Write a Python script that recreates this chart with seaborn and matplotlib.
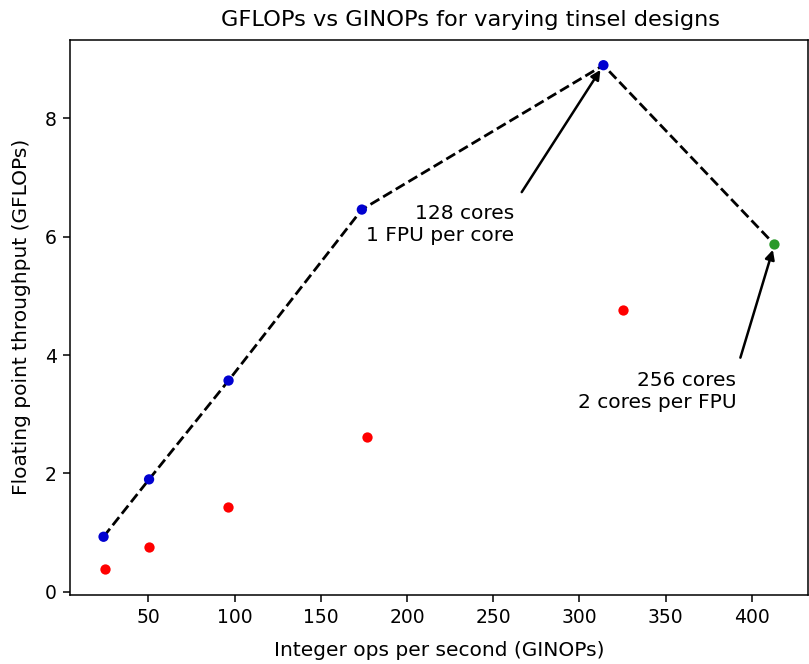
import numpy as np
import pandas as pd

import matplotlib
matplotlib.use('Agg')

from matplotlib import pyplot as plt
import seaborn as sns

# ==============================================================================
# values

# designs with a dedicated FPU (blue) and the shared-FPU design (green)
fpu_ginops = [24.0, 50.4, 96.5, 173.8, 313.9, 413.1]
fpu_gflops = [0.93, 1.90, 3.57, 6.46, 8.90, 5.87]
fpu_kind = ['dedicated', 'dedicated', 'dedicated', 'dedicated', 'dedicated', 'shared']

# software float designs (red)
soft_ginops = [24.6, 50.4, 96.1, 176.8, 325.3]
soft_gflops = [0.38, 0.755, 1.43, 2.61, 4.77]

peak_label = "128 cores\n1 FPU per core"
shared_label = "256 cores\n2 cores per FPU"

# ==============================================================================

fpu_df = pd.DataFrame({'ginops': fpu_ginops, 'gflops': fpu_gflops, 'kind': fpu_kind})
soft_df = pd.DataFrame({'ginops': soft_ginops, 'gflops': soft_gflops})

fig, ax = plt.subplots(figsize=(8.09, 6.64), dpi=100)
fig.subplots_adjust(left=70 / 809, right=808 / 809, top=1 - 40 / 664, bottom=1 - 594.5 / 664)

sns.lineplot(data=fpu_df, x='ginops', y='gflops', color='black', linestyle='--',
             linewidth=2, sort=False, ax=ax, zorder=1)
sns.scatterplot(data=fpu_df, x='ginops', y='gflops', hue='kind',
                palette={'dedicated': '#0000d0', 'shared': '#2a9a2a'},
                s=55, linewidth=0, legend=False, ax=ax, zorder=2)
sns.scatterplot(data=soft_df, x='ginops', y='gflops', color='red',
                s=55, linewidth=0, legend=False, ax=ax, zorder=2)

arrow = dict(arrowstyle='-|>', color='black', lw=1.8, relpos=(1, 1),
             shrinkA=8, shrinkB=4, mutation_scale=14)
ax.annotate(peak_label, xy=(fpu_ginops[4], fpu_gflops[4]), xytext=(262, 6.55),
            ha='right', va='top', fontsize=14.5, arrowprops=arrow)
ax.annotate(shared_label, xy=(fpu_ginops[5], fpu_gflops[5]), xytext=(391, 3.73),
            ha='right', va='top', fontsize=14.5, arrowprops=arrow)

ax.set_title('GFLOPs vs GINOPs for varying tinsel designs', fontsize=16.2, x=0.543, pad=10)
ax.set_xlabel('Integer ops per second (GINOPs)', fontsize=14.5, labelpad=10)
ax.set_ylabel('Floating point throughput (GFLOPs)', fontsize=14.5, labelpad=10)
ax.tick_params(labelsize=13.5, length=5, width=1.1, pad=4.5)
for spine in ax.spines.values():
    spine.set_linewidth(1.1)

plt.savefig('out.png', dpi=100)
